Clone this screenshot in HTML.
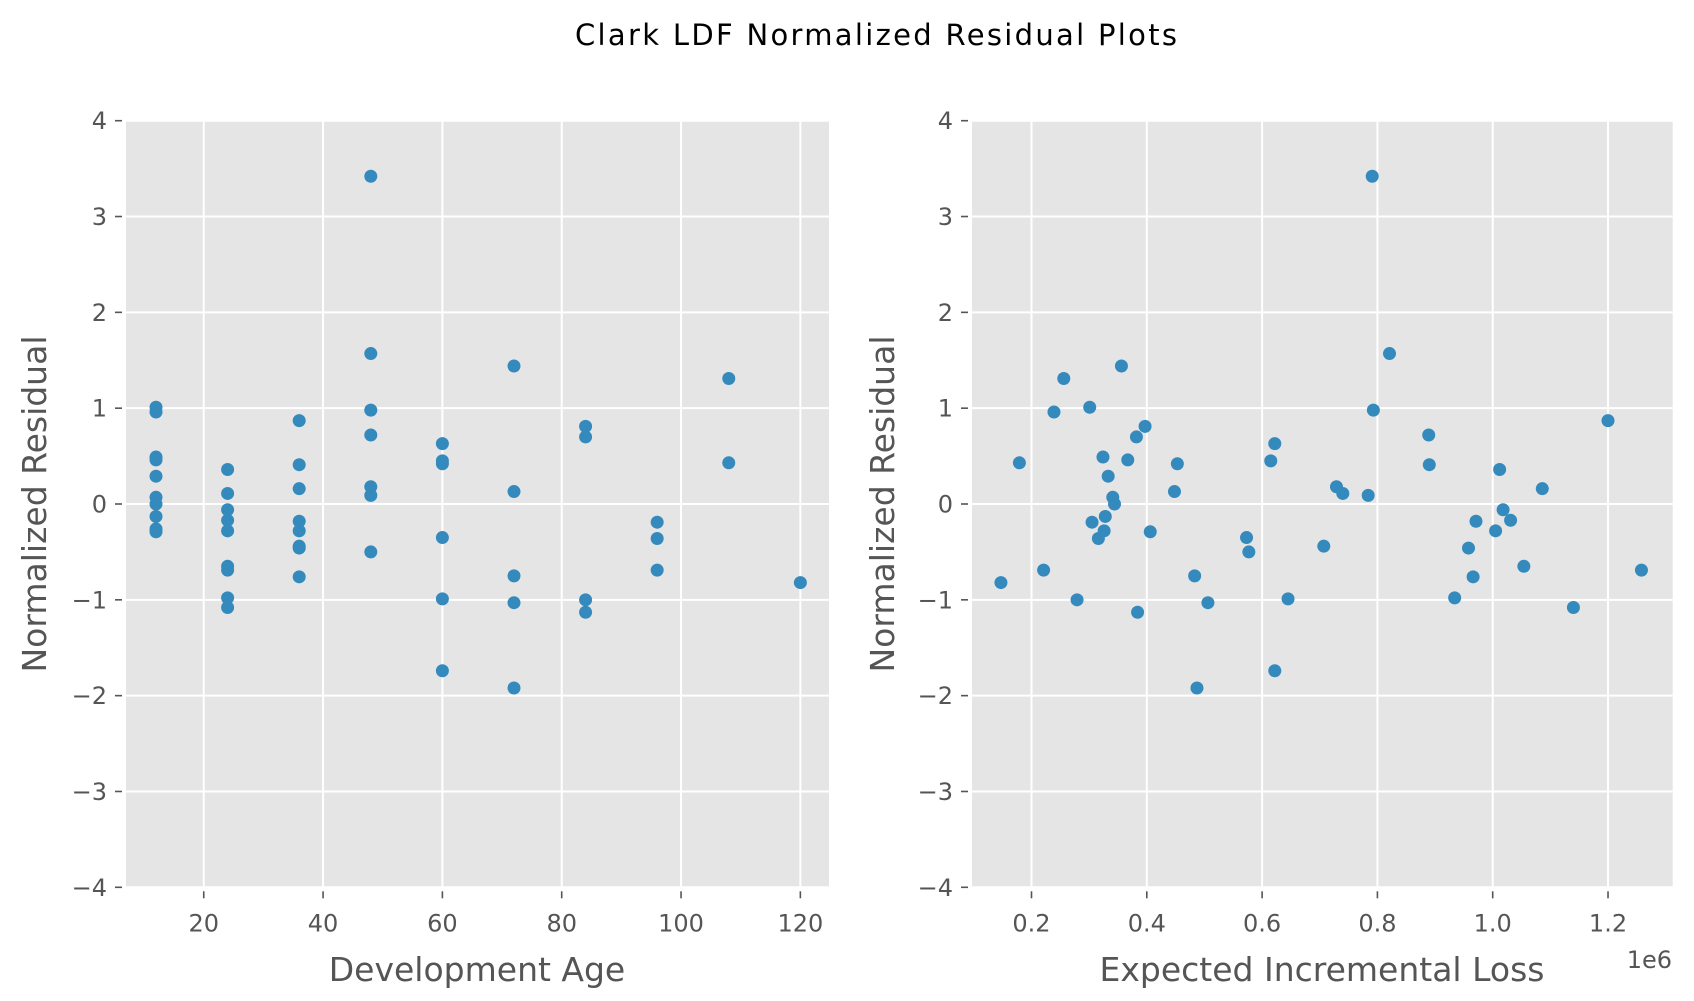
<!DOCTYPE html>
<html><head><meta charset="utf-8"><style>
html,body{margin:0;padding:0;background:#fff;}
svg{display:block;font-family:"DejaVu Sans","Liberation Sans",sans-serif;}
</style></head><body>
<svg id="chart" width="1694" height="1001" viewBox="0 0 1694 1001">
<text x="876" y="45" text-anchor="middle" font-size="29" fill="#000" textLength="602">Clark LDF Normalized Residual Plots</text>
<g id="p1"></g>
<g id="p2"></g>
</svg>
<script>
const devAge = [12,12,12,12,12,12,12,12,12,12, 24,24,24,24,24,24,24,24,24, 36,36,36,36,36,36,36,36, 48,48,48,48,48,48,48, 60,60,60,60,60,60, 72,72,72,72,72, 84,84,84,84, 96,96,96, 108,108, 120];
const devResid = [1.01,0.96,0.49,0.46,0.29,0.07,0.0,-0.13,-0.26,-0.29, 0.36,0.11,-0.06,-0.17,-0.28,-0.65,-0.69,-0.98,-1.08, 0.87,0.41,0.16,-0.18,-0.28,-0.44,-0.46,-0.76, 3.42,1.57,0.98,0.72,0.18,0.09,-0.50, 0.63,0.45,0.42,-0.35,-0.99,-1.74, 1.44,0.13,-0.75,-1.03,-1.92, 0.81,0.70,-1.00,-1.13, -0.19,-0.36,-0.69, 1.31,0.43, -0.82];
const expLoss = [0.147,0.179,0.221,0.239,0.256,0.279,0.301,0.305,0.316,0.324,0.328,0.326,0.333,0.341,0.344,0.356,0.367,0.382,0.384,0.397,0.406,0.448,0.453,0.483,0.487,0.506,0.573,0.577,0.615,0.622,0.622,0.645,0.707,0.729,0.740,0.784,0.791,0.793,0.821,0.889,0.890,0.934,0.958,0.966,0.971,1.005,1.012,1.018,1.031,1.054,1.086,1.140,1.200,1.258];
const expResid = [-0.82,0.43,-0.69,0.96,1.31,-1.00,1.01,-0.19,-0.36,0.49,-0.13,-0.28,0.29,0.07,0.0,1.44,0.46,0.70,-1.13,0.81,-0.29,0.13,0.42,-0.75,-1.92,-1.03,-0.35,-0.50,0.45,0.63,-1.74,-0.99,-0.44,0.18,0.11,0.09,3.42,0.98,1.57,0.72,0.41,-0.98,-0.46,-0.76,-0.18,-0.28,0.36,-0.06,-0.17,-0.65,0.16,-1.08,0.87,-0.69];
const yTicks = [4,3,2,1,0,-1,-2,-3,-4];
const xTicks1 = [20,40,60,80,100,120];
const xTicks2 = [0.2,0.4,0.6,0.8,1.0,1.2];
const xTickLabels2 = ["0.2","0.4","0.6","0.8","1.0","1.2"];

const NS="http://www.w3.org/2000/svg";
function mk(parent,tag,attrs){const e=document.createElementNS(NS,tag);for(const k in attrs)e.setAttribute(k,attrs[k]);parent.appendChild(e);return e;}
const axTop=120.7,axBot=887.3;
function ysc(v){return axTop+(4-v)*(axBot-axTop)/8;}
function panel(g,x0,x1,xmin,xmax,xs,yv,ticks,tickLabels,xlabel,xlabelX,ylabOff){
  const xsc=v=>x0+(v-xmin)*(x1-x0)/(xmax-xmin);
  const bg=mk(g,'rect',{x:x0,y:axTop,width:x1-x0,height:axBot-axTop,fill:'#E5E5E5'});
  
  
  yTicks.forEach(t=>{
    const l=mk(g,'line',{x1:x0,x2:x1,y1:ysc(t),y2:ysc(t),stroke:'#fff','stroke-width':2});
    
    
    const tk=mk(g,'line',{x1:x0-11,x2:x0-4,y1:ysc(t),y2:ysc(t),stroke:'#555','stroke-width':1.6});
    
    
    const tx=mk(g,'text',{x:x0-19,y:ysc(t)+8.5,'text-anchor':'end','font-size':24,fill:'#555'});
    tx.textContent=(t<0?'\u2212'+(-t):String(t));
    
    
  });
  ticks.forEach((t,i)=>{
    const X=xsc(t);
    const l=mk(g,'line',{x1:X,x2:X,y1:axTop,y2:axBot,stroke:'#fff','stroke-width':2});
    
    
    const tk=mk(g,'line',{x1:X,x2:X,y1:axBot+4,y2:axBot+11,stroke:'#555','stroke-width':1.6});
    
    
    const tx=mk(g,'text',{x:X,y:axBot+44,'text-anchor':'middle','font-size':24,fill:'#555'});
    tx.textContent=tickLabels[i];
    
    
  });
  xs.forEach((v,i)=>{
    const c=mk(g,'circle',{cx:xsc(v),cy:ysc(yv[i]),r:6.5,fill:'#348ABD'});
    
    
  });
  const xl=mk(g,'text',{x:xlabelX,y:981,'text-anchor':'middle','font-size':33,fill:'#555'});
  xl.textContent=xlabel;
  
  
  const yl=mk(g,'text',{x:0,y:0,'text-anchor':'middle','font-size':33,fill:'#555',transform:`translate(${x0-ylabOff},${(axTop+axBot)/2}) rotate(-90)`});
  yl.textContent='Normalized Residual';
  
  
}
panel(document.getElementById('p1'),126,829,6.97,124.8,devAge,devResid,xTicks1,xTicks1.map(String),'Development Age',477,80);
panel(document.getElementById('p2'),972,1672.7,0.0968,1.3122,expLoss,expResid,xTicks2,xTickLabels2,'Expected Incremental Loss',1322,78);
const e6=mk(document.getElementById('p2'),'text',{x:1672,y:968,'text-anchor':'end','font-size':24,fill:'#555'});
e6.textContent='1e6';


</script>
</body></html>
